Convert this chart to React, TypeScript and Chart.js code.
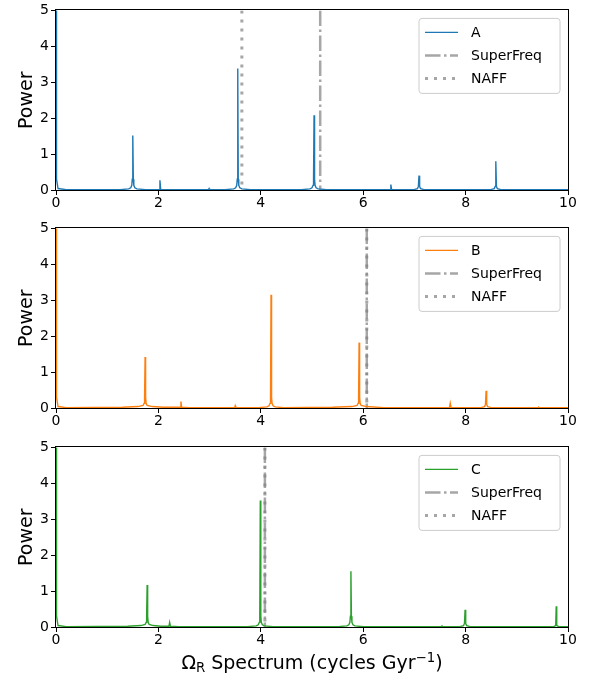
import React, { useEffect, useRef } from "react";
import { Chart, registerables } from "chart.js";

Chart.register(...registerables);

// ---------- data ----------
const X_TICKS = [0, 2, 4, 6, 8, 10];
const Y_TICKS = [0, 1, 2, 3, 4, 5];
const SERIES_NAMES = ["A", "B", "C"];
const SERIES_COLORS = ["#1f77b4", "#ff7f0e", "#2ca02c"];

// [frequency (cycles/Gyr), power]
const SPECTRUM_A = [
  [0, 6], [0.01, 0.3], [0.04, 0.04], [0.2, 0.01],
  [1.25, 0.01], [1.42, 0.03], [1.46, 0.06], [1.48, 0.13], [1.49, 0.3], [1.5, 1.52], [1.51, 0.3], [1.52, 0.13], [1.54, 0.06], [1.58, 0.03], [1.75, 0.01],
  [2.015, 0.01], [2.03, 0.27], [2.045, 0.01],
  [2.98, 0.01], [2.99, 0.04], [3.0, 0.01],
  [3.3, 0.01], [3.47, 0.03], [3.51, 0.06], [3.53, 0.13], [3.54, 0.3], [3.55, 3.38], [3.56, 0.3], [3.57, 0.13], [3.59, 0.06], [3.63, 0.03], [3.8, 0.01],
  [4.79, 0.01], [4.96, 0.03], [5.0, 0.06], [5.02, 0.13], [5.03, 0.3], [5.04, 2.08], [5.05, 0.3], [5.06, 0.13], [5.08, 0.06], [5.12, 0.03], [5.29, 0.01],
  [6.525, 0.01], [6.54, 0.15], [6.555, 0.01],
  [6.99, 0.01], [7.06, 0.04], [7.078, 0.1], [7.09, 0.4], [7.102, 0.1], [7.12, 0.04], [7.19, 0.01],
  [8.49, 0.01], [8.56, 0.04], [8.578, 0.1], [8.59, 0.8], [8.602, 0.1], [8.62, 0.04], [8.69, 0.01],
  [10, 0.01],
];

const SPECTRUM_B = [
  [0, 6], [0.01, 0.3], [0.04, 0.04], [0.2, 0.01],
  [1.3, 0.02], [1.6, 0.04], [1.7, 0.07], [1.72, 0.13], [1.73, 0.3], [1.74, 1.42], [1.75, 0.3], [1.76, 0.13], [1.78, 0.07], [1.88, 0.04], [2.1, 0.02],
  [2.425, 0.02], [2.44, 0.18], [2.455, 0.02], [2.6, 0.01],
  [3.49, 0.01], [3.5, 0.06], [3.51, 0.01],
  [3.95, 0.01], [4.12, 0.03], [4.16, 0.06], [4.18, 0.13], [4.19, 0.3], [4.2, 3.15], [4.21, 0.3], [4.22, 0.13], [4.24, 0.06], [4.28, 0.03], [4.45, 0.01],
  [5.4, 0.02], [5.78, 0.04], [5.88, 0.07], [5.9, 0.13], [5.91, 0.3], [5.92, 1.82], [5.93, 0.3], [5.94, 0.13], [5.96, 0.07], [6.06, 0.04], [6.4, 0.01],
  [7.685, 0.01], [7.7, 0.13], [7.715, 0.01],
  [8.3, 0.01], [8.37, 0.04], [8.388, 0.1], [8.4, 0.48], [8.412, 0.1], [8.43, 0.04], [8.5, 0.01],
  [9.42, 0.01], [9.43, 0.02], [9.44, 0.01],
  [10, 0.01],
];

const SPECTRUM_C = [
  [0, 6], [0.01, 0.3], [0.04, 0.04], [0.2, 0.01],
  [1.4, 0.02], [1.66, 0.04], [1.74, 0.07], [1.76, 0.13], [1.77, 0.3], [1.78, 1.17], [1.79, 0.3], [1.8, 0.13], [1.82, 0.07], [1.9, 0.04], [2.05, 0.02],
  [2.205, 0.02], [2.22, 0.13], [2.235, 0.02], [2.4, 0.01],
  [3.74, 0.01], [3.91, 0.03], [3.95, 0.06], [3.97, 0.13], [3.98, 0.3], [3.99, 3.52], [4.0, 0.3], [4.01, 0.13], [4.03, 0.06], [4.07, 0.03], [4.24, 0.01],
  [5.51, 0.01], [5.68, 0.03], [5.72, 0.06], [5.74, 0.13], [5.75, 0.3], [5.76, 1.55], [5.77, 0.3], [5.78, 0.13], [5.8, 0.06], [5.84, 0.03], [6.01, 0.01],
  [7.53, 0.01], [7.54, 0.03], [7.55, 0.01],
  [7.89, 0.01], [7.96, 0.04], [7.978, 0.1], [7.99, 0.48], [8.002, 0.1], [8.02, 0.04], [8.09, 0.01],
  [9.72, 0.01], [9.76, 0.04], [9.77, 0.58], [9.78, 0.04], [9.82, 0.01],
  [10, 0.01],
];

const SPECTRA = [SPECTRUM_A, SPECTRUM_B, SPECTRUM_C];
const SUPERFREQ = [5.16, 6.07, 4.08];
const NAFF = [3.63, 6.07, 4.08];
const LINE_LABELS = ["SuperFreq", "NAFF"];

// ---------- styles ----------
const FONT = "'DejaVu Sans', sans-serif";
const GREY = "rgba(128,128,128,0.7)";
const DASHDOT = [15.5, 3.5, 2.5, 3.5];
const DOTTED = [3, 6];
const CANVAS_H = 219;
const PANEL_TOPS = [0, 218, 437];

function makeFramePlugin() {
  return {
    id: "frame",
    beforeDatasetsDraw(chart: any) {
      const { ctx, chartArea: a } = chart;
      ctx.save();
      ctx.strokeStyle = "#000";
      ctx.lineWidth = 1;
      ctx.strokeRect(Math.round(a.left) - 0.5, Math.round(a.top) - 0.5, Math.round(a.right - a.left) + 1, Math.round(a.bottom - a.top) + 1);
      ctx.restore();
    },
  };
}

function makeLegendPlugin(idx: number) {
  return {
    id: "boxLegend",
    afterDatasetsDraw(chart: any) {
      const { ctx, chartArea: a } = chart;
      const w = 141;
      const h = 75;
      const x0 = a.right - 8 - w;
      const y0 = a.top + 8;
      ctx.save();
      ctx.beginPath();
      const r = 3;
      ctx.moveTo(x0 + r, y0);
      ctx.arcTo(x0 + w, y0, x0 + w, y0 + h, r);
      ctx.arcTo(x0 + w, y0 + h, x0, y0 + h, r);
      ctx.arcTo(x0, y0 + h, x0, y0, r);
      ctx.arcTo(x0, y0, x0 + w, y0, r);
      ctx.closePath();
      ctx.fillStyle = "rgba(255,255,255,0.8)";
      ctx.fill();
      ctx.strokeStyle = "#cccccc";
      ctx.lineWidth = 1;
      ctx.stroke();

      const items = [
        { label: SERIES_NAMES[idx], color: SERIES_COLORS[idx], dash: [] as number[], width: 1.4 },
        { label: LINE_LABELS[0], color: GREY, dash: DASHDOT, width: 2.5 },
        { label: LINE_LABELS[1], color: GREY, dash: DOTTED, width: 3 },
      ];
      items.forEach((it, i) => {
        const y = y0 + 14 + i * 23;
        ctx.beginPath();
        ctx.setLineDash(it.dash);
        ctx.lineCap = "butt";
        ctx.strokeStyle = it.color;
        ctx.lineWidth = it.width;
        ctx.moveTo(x0 + 6, y);
        ctx.lineTo(x0 + 39, y);
        ctx.stroke();
        ctx.setLineDash([]);
        ctx.fillStyle = "#000";
        ctx.font = `14px ${FONT}`;
        ctx.textBaseline = "middle";
        ctx.textAlign = "left";
        ctx.fillText(it.label, x0 + 52, y + 1);
      });
      ctx.restore();
    },
  };
}

function Panel({ idx }: { idx: number }) {
  const ref = useRef<HTMLCanvasElement | null>(null);
  useEffect(() => {
    if (!ref.current) return;
    const spectrum = SPECTRA[idx].map(([f, p]) => ({ x: f, y: p }));
    const chart = new Chart(ref.current, {
      type: "line",
      data: {
        datasets: [
          {
            label: SERIES_NAMES[idx],
            data: spectrum,
            borderColor: SERIES_COLORS[idx],
            borderWidth: 1.4,
            pointRadius: 0,
            tension: 0,
            fill: false,
          },
          {
            label: LINE_LABELS[0],
            data: [{ x: SUPERFREQ[idx], y: 5 }, { x: SUPERFREQ[idx], y: 0 }],
            borderColor: GREY,
            borderWidth: 2.5,
            borderDash: DASHDOT,
            pointRadius: 0,
            fill: false,
          },
          {
            label: LINE_LABELS[1],
            data: [{ x: NAFF[idx], y: 5 }, { x: NAFF[idx], y: 0 }],
            borderColor: GREY,
            borderWidth: 3,
            borderDash: DOTTED,
            pointRadius: 0,
            fill: false,
          },
        ],
      },
      options: {
        animation: false,
        responsive: false,
        devicePixelRatio: 1,
        layout: { padding: { top: 7, right: 28, left: 0, bottom: 0 } },
        plugins: { legend: { display: false }, tooltip: { enabled: false } },
        scales: {
          x: {
            type: "linear",
            min: 0,
            max: 10,
            afterBuildTicks: (s: any) => {
              s.ticks = X_TICKS.map((v) => ({ value: v }));
            },
            afterFit: (s: any) => {
              s.height = 29;
            },
            border: { display: false },
            grid: { drawOnChartArea: false, drawTicks: true, tickLength: 5, tickColor: "#000", lineWidth: 1 },
            ticks: { color: "#000", font: { family: FONT, size: 14 }, padding: 0, maxRotation: 0 },
          },
          y: {
            type: "linear",
            min: 0,
            max: 5,
            afterBuildTicks: (s: any) => {
              s.ticks = Y_TICKS.map((v) => ({ value: v }));
            },
            afterFit: (s: any) => {
              s.width = 56;
            },
            border: { display: false },
            grid: { drawOnChartArea: false, drawTicks: true, tickLength: 5, tickColor: "#000", lineWidth: 1 },
            ticks: { color: "#000", font: { family: FONT, size: 14 }, padding: 2 },
            title: {
              display: true,
              text: "Power",
              color: "#000",
              font: { family: FONT, size: 19 },
              padding: { top: 16, bottom: 0 },
            },
          },
        },
      },
      plugins: [makeFramePlugin(), makeLegendPlugin(idx)],
    } as any);
    return () => chart.destroy();
  }, [idx]);
  return (
    <canvas
      ref={ref}
      width={596}
      height={CANVAS_H}
      style={{ position: "absolute", left: 0, top: PANEL_TOPS[idx], display: "block" }}
    />
  );
}

export default function App() {
  return (
    <div style={{ position: "absolute", left: 0, top: 0, width: 596, height: 680, background: "#fff", fontFamily: FONT }}>
      {[0, 1, 2].map((i) => (
        <Panel key={i} idx={i} />
      ))}
      <div
        style={{
          position: "absolute",
          left: 56,
          width: 512,
          top: 650,
          textAlign: "center",
          fontSize: 19,
          lineHeight: "24px",
          color: "#000",
          whiteSpace: "nowrap",
        }}
      >
        Ω<span style={{ fontSize: "0.7em", position: "relative", top: "0.25em" }}>R</span> Spectrum (cycles Gyr
        <span style={{ fontSize: "0.7em", position: "relative", top: "-0.5em" }}>−1</span>)
      </div>
    </div>
  );
}
